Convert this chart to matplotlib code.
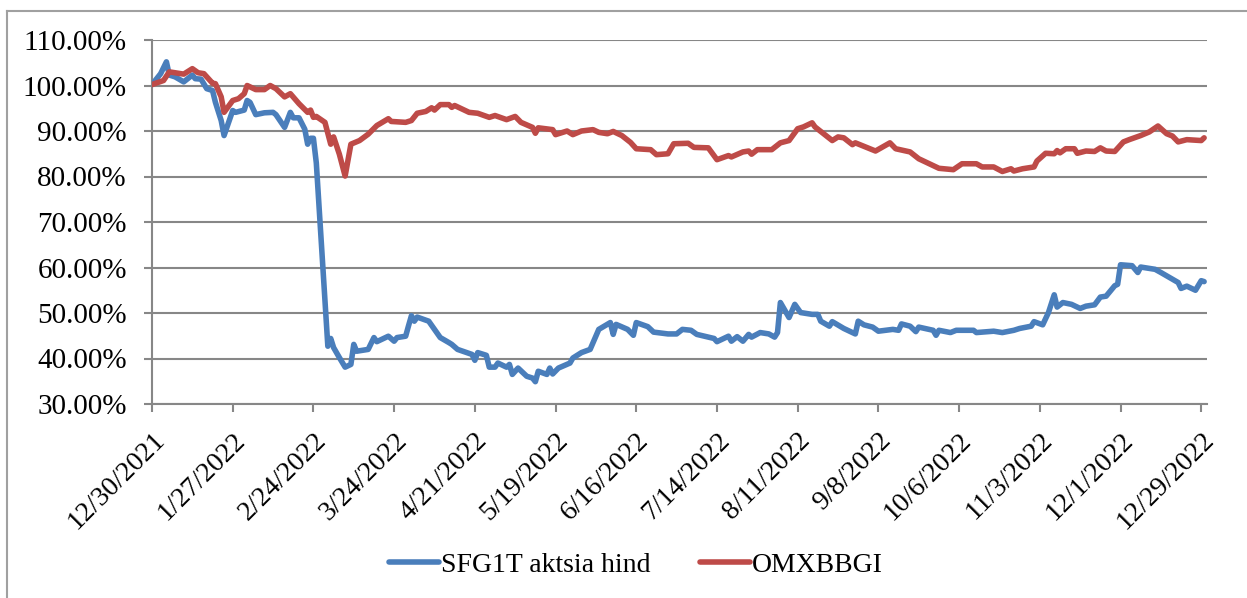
import numpy as np
import pandas as pd
import matplotlib
matplotlib.use('Agg')
import matplotlib.pyplot as plt
from matplotlib.ticker import FuncFormatter

plt.rcParams['font.family'] = ['Liberation Serif', 'DejaVu Serif']

start = pd.Timestamp('2021-12-30')

# days after 12/30/2021 and value in % of start
sfg_days = [0, 3, 5, 6, 8, 11, 14, 15, 17, 19, 21, 22, 24, 25, 28, 29, 32, 33, 34, 36,
            39, 42, 43, 46, 48, 49, 51, 53, 54, 55, 56, 57, 61, 62, 63, 65, 67, 69, 70, 71,
            75, 77, 78, 82, 84, 85, 88, 89, 90, 91, 92, 96, 100, 103, 104, 106, 111, 112, 113, 116,
            117, 119, 120, 123, 124, 125, 127, 130, 132, 133, 134, 137, 138, 139, 141, 145, 146, 149, 152, 155,
            159, 160, 161, 165, 167, 168, 172, 174, 179, 182, 184, 187, 189, 195, 196, 200, 201, 203, 205, 207,
            208, 211, 214, 216, 217, 218, 221, 223, 225, 229, 231, 232, 235, 236, 240, 244, 245, 247, 250, 252,
            257, 259, 260, 263, 265, 266, 271, 272, 273, 277, 279, 285, 286, 292, 295, 299, 301, 305, 306, 309,
            311, 313, 314, 316, 319, 322, 324, 327, 329, 331, 334, 335, 336, 340, 342, 343, 348, 350, 356, 357,
            359, 362, 364, 365]
sfg_vals = [100.2, 102.6, 105.2, 102.3, 101.9, 100.8, 102.3, 101.5, 101.4, 99.3, 98.9, 96.3, 92.3, 89.0, 94.5, 94.1, 94.6, 96.7, 96.3, 93.6,
            94.0, 94.1, 93.6, 90.8, 94.1, 92.9, 92.9, 90.4, 87.1, 88.4, 88.4, 83.0, 42.7, 44.4, 42.4, 40.2, 38.1, 38.7, 43.1, 41.6,
            42.0, 44.6, 43.7, 44.9, 43.8, 44.6, 44.9, 47.2, 49.4, 48.2, 49.1, 48.2, 44.6, 43.5, 43.1, 42.0, 40.9, 39.6, 41.3, 40.7,
            38.1, 38.1, 39.0, 38.1, 38.7, 36.5, 37.9, 36.1, 35.7, 34.9, 37.2, 36.5, 37.9, 36.6, 37.9, 39.0, 40.1, 41.3, 42.0, 46.4,
            47.9, 45.3, 47.5, 46.4, 45.1, 47.9, 47.0, 45.8, 45.4, 45.4, 46.4, 46.2, 45.3, 44.4, 43.7, 44.9, 43.8, 44.8, 43.8, 45.3,
            44.7, 45.7, 45.4, 44.7, 45.7, 52.3, 49.0, 51.9, 50.1, 49.7, 49.7, 48.2, 47.1, 48.1, 46.6, 45.4, 48.2, 47.4, 46.9, 46.0,
            46.4, 46.2, 47.6, 47.1, 45.9, 46.9, 46.2, 45.1, 46.2, 45.7, 46.2, 46.2, 45.7, 46.0, 45.7, 46.2, 46.6, 47.1, 48.1, 47.4,
            50.1, 54.0, 51.3, 52.3, 51.9, 51.0, 51.5, 51.8, 53.5, 53.7, 56.0, 56.3, 60.6, 60.4, 58.9, 60.1, 59.6, 58.9, 56.7, 55.4,
            55.9, 55.0, 57.1, 56.9]

omx_days = [0, 4, 6, 11, 14, 16, 18, 21, 22, 24, 25, 28, 30, 32, 33, 36, 39, 41, 43, 46,
            48, 51, 54, 55, 56, 57, 60, 62, 63, 65, 67, 69, 72, 75, 78, 82, 83, 88, 90, 92,
            95, 97, 98, 100, 103, 104, 105, 110, 113, 117, 119, 123, 126, 128, 132, 133, 134, 139, 140, 144,
            146, 149, 153, 155, 158, 160, 163, 166, 168, 173, 175, 179, 181, 186, 188, 193, 196, 200, 201, 205,
            207, 208, 210, 215, 218, 221, 224, 226, 229, 230, 236, 238, 240, 243, 244, 251, 256, 258, 263, 266,
            271, 273, 278, 281, 286, 288, 292, 295, 298, 299, 302, 306, 307, 310, 313, 314, 315, 317, 320, 321,
            324, 327, 329, 331, 334, 337, 339, 343, 346, 349, 352, 354, 356, 359, 364, 365]
omx_vals = [100.2, 101.1, 103.0, 102.5, 103.7, 102.8, 102.6, 100.5, 100.4, 97.5, 94.1, 96.7, 97.1, 98.2, 100.0, 99.1, 99.1, 100.0, 99.3, 97.5,
            98.2, 96.0, 94.1, 94.6, 93.0, 93.2, 91.9, 87.1, 88.7, 84.9, 80.1, 87.1, 87.9, 89.3, 91.2, 92.7, 92.1, 91.9, 92.3, 93.9,
            94.3, 95.1, 94.6, 95.8, 95.8, 95.2, 95.6, 94.1, 93.9, 93.0, 93.4, 92.5, 93.2, 91.9, 90.8, 89.5, 90.7, 90.3, 89.2, 90.0,
            89.2, 90.0, 90.3, 89.7, 89.4, 89.9, 89.0, 87.5, 86.1, 85.9, 84.8, 85.0, 87.2, 87.3, 86.4, 86.3, 83.7, 84.6, 84.3, 85.4,
            85.6, 84.9, 85.9, 85.9, 87.4, 87.9, 90.5, 90.9, 91.8, 90.9, 87.9, 88.7, 88.5, 87.0, 87.4, 85.6, 87.4, 86.1, 85.4, 83.9,
            82.4, 81.8, 81.5, 82.8, 82.8, 82.1, 82.1, 81.1, 81.7, 81.2, 81.7, 82.1, 83.4, 85.1, 85.0, 85.7, 85.2, 86.1, 86.1, 85.1,
            85.6, 85.5, 86.3, 85.6, 85.5, 87.6, 88.1, 89.0, 89.8, 91.1, 89.4, 88.9, 87.6, 88.1, 87.9, 88.5]

sfg_dates = start + pd.to_timedelta(sfg_days, unit='D')
omx_dates = start + pd.to_timedelta(omx_days, unit='D')
tick_dates = pd.date_range('2021-12-30', '2022-12-29', freq='28D')

fig = plt.figure(figsize=(12.47, 5.98), dpi=100)
ax = fig.add_axes([152 / 1247, 1 - 404 / 598, (1207 - 152) / 1247, 364 / 598])

grid_c = '#878787'
ax.plot(sfg_dates, np.array(sfg_vals) / 100, color='#4A7EBB', lw=4.0,
        solid_joinstyle='round', solid_capstyle='round', label='SFG1T aktsia hind', zorder=3)
ax.plot(omx_dates, np.array(omx_vals) / 100, color='#BE4B48', lw=4.0,
        solid_joinstyle='round', solid_capstyle='round', label='OMXBBGI', zorder=3)

ax.set_ylim(0.3, 1.1)
ax.set_yticks(np.arange(0.3, 1.101, 0.1))
ax.yaxis.set_major_formatter(FuncFormatter(lambda v, p: f'{v * 100:.2f}%'))
ax.set_xlim(start, start + pd.Timedelta(days=366))
ax.set_xticks(tick_dates)
ax.set_xticklabels([f'{d.month}/{d.day}/{d.year}' for d in tick_dates],
                   rotation=45, ha='right', va='top', rotation_mode='anchor')

ax.grid(axis='y', color=grid_c, lw=1.5)
ax.set_axisbelow(True)
for s in ['top', 'right']:
    ax.spines[s].set_visible(False)
for s in ['left', 'bottom']:
    ax.spines[s].set_color(grid_c)
    ax.spines[s].set_linewidth(1.5)
ax.tick_params(axis='both', colors=grid_c, labelcolor='black', labelsize=20, width=1.5, length=6)
ax.tick_params(axis='y', pad=12, labelsize=21)
ax.tick_params(axis='x', pad=11)

fig.legend(loc='center', bbox_to_anchor=(0.51, 0.055), ncol=2, frameon=False,
           fontsize=20, handlelength=1.8, handletextpad=0.05, columnspacing=1.8)

# chart area border (left and top edges visible)
fig.add_artist(plt.Line2D([7 / 1247, 7 / 1247], [0, 1 - 11 / 598], color='#a0a0a0', lw=1.5,
                          transform=fig.transFigure))
fig.add_artist(plt.Line2D([7 / 1247, 1], [1 - 11 / 598, 1 - 11 / 598], color='#a0a0a0', lw=1.5,
                          transform=fig.transFigure))

fig.savefig('out.png', dpi=100)
